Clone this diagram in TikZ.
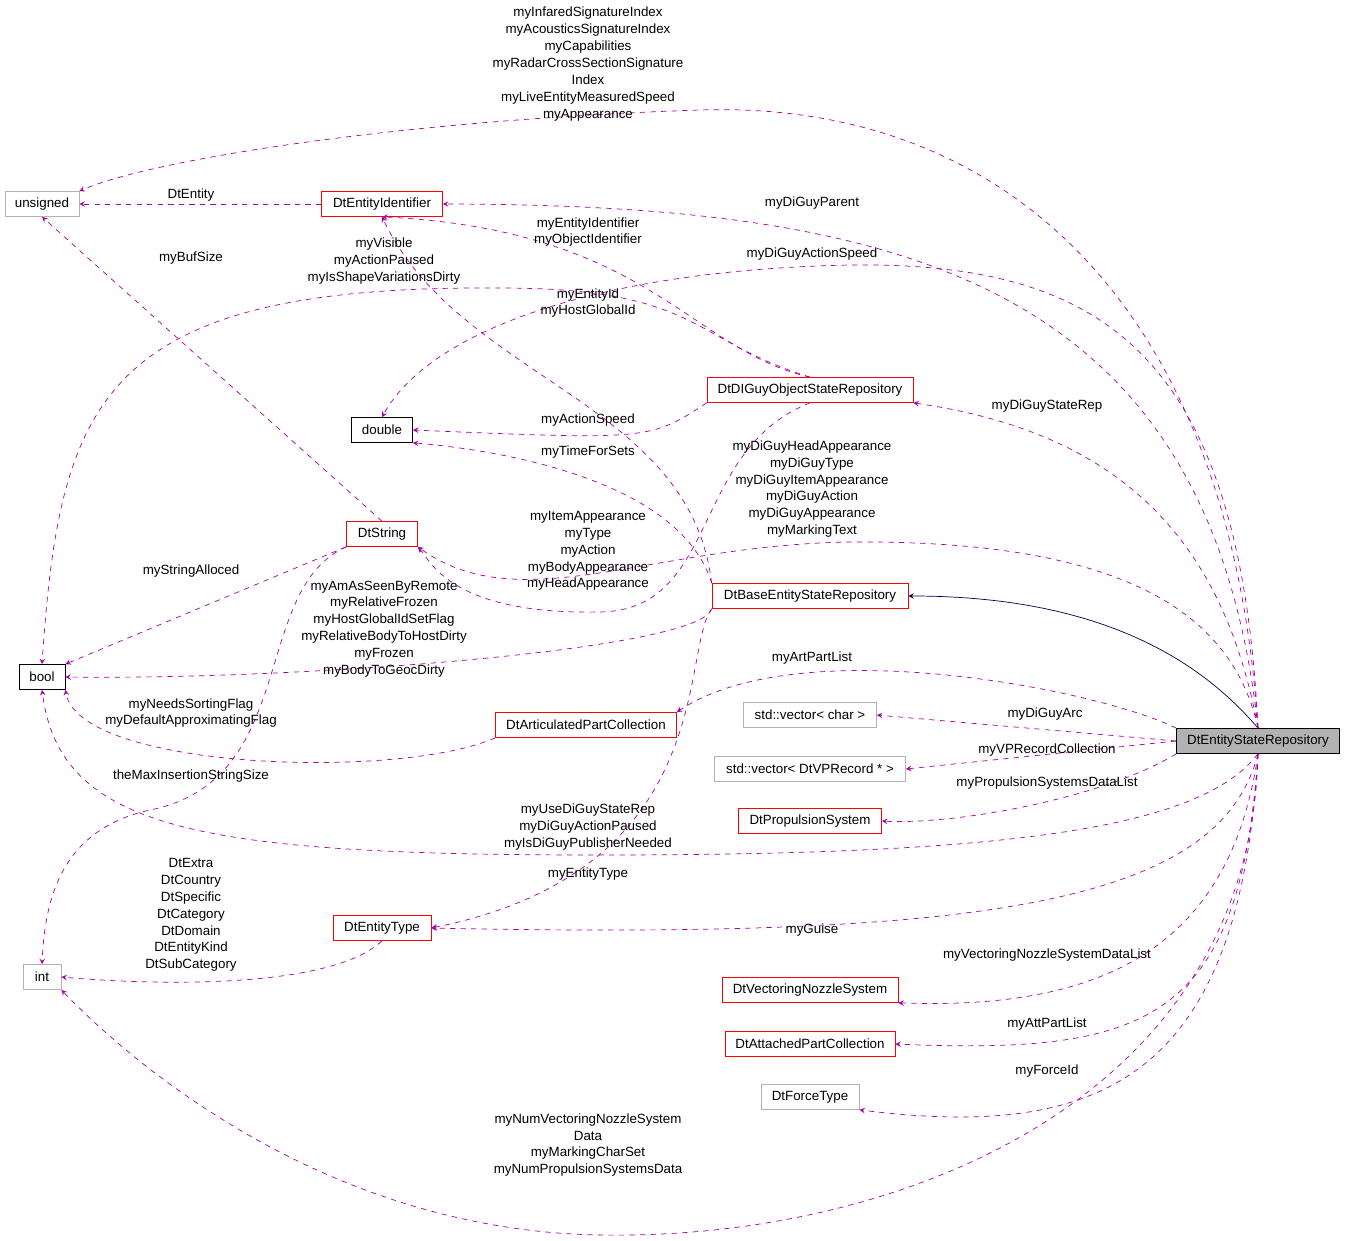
\documentclass[tikz,border=0pt]{standalone}
\usepackage{fontspec}
\setmainfont{Liberation Sans}
\usetikzlibrary{calc, positioning, arrows}

\begin{document}
\begin{tikzpicture}[x=0.02cm, y=-0.02cm,
  every node/.style={font=\fontsize{7.6}{9.6}\selectfont},
  cls/.style={draw, inner sep=2pt, minimum height=0.5cm, fill=white},
  red cls/.style={cls, draw=red},
  gray cls/.style={cls, draw=gray!60},
  blk cls/.style={cls, draw=black},
  mem/.style={dashed, color=violet!70!magenta, -stealth, thin},
  inh/.style={color=blue!30!black, -stealth, thin},
  lbl/.style={align=center, inner sep=0pt}]
  \useasboundingbox (0,0) rectangle (1347,1241);

  % classes
  \node[gray cls, minimum width=1.48cm] (unsigned) at (42,204) {unsigned};
  \node[red cls, minimum width=2.42cm] (ident) at (382,204) {DtEntityIdentifier};
  \node[blk cls, minimum width=1.22cm] (double) at (382,430) {double};
  \node[red cls, minimum width=4.12cm] (dig) at (810,390) {DtDIGuyObjectStateRepository};
  \node[red cls, minimum width=1.42cm] (dstr) at (382,534) {DtString};
  \node[red cls, minimum width=3.92cm] (base) at (810,596) {DtBaseEntityStateRepository};
  \node[blk cls, minimum width=0.92cm] (bool) at (42,677) {bool};
  \node[red cls, minimum width=3.62cm] (artic) at (586,725) {DtArticulatedPartCollection};
  \node[gray cls, minimum width=2.66cm] (vchar) at (810,715) {std::vector< char >};
  \node[gray cls, minimum width=3.82cm] (vvp) at (810,769) {std::vector< DtVPRecord * >};
  \node[cls, fill=gray!60, minimum width=3.26cm] (esr) at (1258,741) {DtEntityStateRepository};
  \node[red cls, minimum width=2.86cm] (prop) at (810,821) {DtPropulsionSystem};
  \node[red cls, minimum width=1.96cm] (etype) at (382,928) {DtEntityType};
  \node[gray cls, minimum width=0.76cm] (int) at (42,977) {int};
  \node[red cls, minimum width=3.52cm] (vns) at (810,990) {DtVectoringNozzleSystem};
  \node[red cls, minimum width=3.40cm] (att) at (810,1044) {DtAttachedPartCollection};
  \node[gray cls, minimum width=1.96cm] (force) at (810,1097) {DtForceType};

  % connectors from DtEntityStateRepository
  \draw[inh] (esr.north) .. controls (1200,660) and (1100,596) .. (base.east);
  \draw[mem] (esr.north) .. controls (1230,300) and (1000,100) .. (700,110) .. controls (400,120) and (150,160) .. (unsigned.north east);
  \draw[mem] (esr.north) .. controls (1210,280) and (900,205) .. (ident.east);
  \draw[mem] (esr.north) .. controls (1240,350) and (1100,262) .. (850,265) .. controls (600,270) and (430,330) .. (double.north);
  \draw[mem] (esr.north) .. controls (1220,520) and (1100,430) .. (dig.south east);
  \draw[mem] (esr.north) .. controls (1230,600) and (1100,540) .. (850,542) .. controls (650,545) and (520,620) .. (dstr.south east);
  \draw[mem] (esr.north west) .. controls (1100,690) and (800,630) .. (artic.north east);
  \draw[mem] (esr.west) -- (vchar.east);
  \draw[mem] (esr.west) -- (vvp.east);
  \draw[mem] (esr.south west) .. controls (1100,800) and (950,825) .. (prop.east);
  \draw[mem] (esr.south) .. controls (1200,830) and (1000,855) .. (600,855) .. controls (200,855) and (60,830) .. (bool.south);
  \draw[mem] (esr.south) .. controls (1220,900) and (1000,940) .. (etype.east);
  \draw[mem] (esr.south) .. controls (1230,950) and (1100,1010) .. (vns.south east);
  \draw[mem] (esr.south) .. controls (1240,1020) and (1150,1055) .. (att.east);
  \draw[mem] (esr.south) .. controls (1240,1080) and (1100,1140) .. (force.south east);
  \draw[mem] (esr.south) .. controls (1250,1100) and (900,1240) .. (600,1235) .. controls (300,1230) and (100,1030) .. (int.south east);

  % other connectors
  \draw[mem] (ident.west) -- (unsigned.east);
  \draw[mem] (dstr.north) -- (unsigned.south);
  \draw[mem] (dstr.south west) -- (bool.north east);
  \draw[mem] (dstr.south west) .. controls (250,590) and (300,780) .. (150,810) .. controls (60,830) and (45,900) .. (int.north);
  \draw[mem] (dig.north) .. controls (690,350) and (650,230) .. (ident.south);
  \draw[mem] (dig.north) .. controls (690,340) and (700,288) .. (500,288) .. controls (100,285) and (60,400) .. (bool.north);
  \draw[mem] (dig.south west) .. controls (650,440) .. (double.east);
  \draw[mem] (dig.south) .. controls (690,450) and (720,610) .. (600,612) .. controls (450,615) and (430,560) .. (dstr.south east);
  \draw[mem] (base.north west) .. controls (690,400) and (460,380) .. (ident.south);
  \draw[mem] (base.north west) .. controls (680,480) and (500,450) .. (double.south east);
  \draw[mem] (base.south west) .. controls (700,650) and (300,680) .. (bool.east);
  \draw[mem] (base.south west) .. controls (680,650) and (720,870) .. (etype.east);
  \draw[mem] (artic.south west) .. controls (400,780) and (80,770) .. (bool.south east);
  \draw[mem] (etype.south) .. controls (330,990) and (150,985) .. (int.east);

  % labels
  \node[lbl] (l1) at (588,64) {myInfaredSignatureIndex\\myAcousticsSignatureIndex\\myCapabilities\\myRadarCrossSectionSignature\\Index\\myLiveEntityMeasuredSpeed\\myAppearance};
  \node[lbl] (l2) at (812,203) {myDiGuyParent};
  \node[lbl] (l3) at (812,254) {myDiGuyActionSpeed};
  \node[lbl] (l4) at (1047,406) {myDiGuyStateRep};
  \node[lbl] (l5) at (812,489) {myDiGuyHeadAppearance\\myDiGuyType\\myDiGuyItemAppearance\\myDiGuyAction\\myDiGuyAppearance\\myMarkingText};
  \node[lbl] (l6) at (812,658) {myArtPartList};
  \node[lbl] (l7) at (1045,714) {myDiGuyArc};
  \node[lbl] (l8) at (1047,750) {myVPRecordCollection};
  \node[lbl] (l9) at (1047,783) {myPropulsionSystemsDataList};
  \node[lbl] (l10) at (588,827) {myUseDiGuyStateRep\\myDiGuyActionPaused\\myIsDiGuyPublisherNeeded};
  \node[lbl] (l11) at (812,930) {myGuise};
  \node[lbl] (l12) at (1047,955) {myVectoringNozzleSystemDataList};
  \node[lbl] (l13) at (1047,1024) {myAttPartList};
  \node[lbl] (l14) at (1047,1071) {myForceId};
  \node[lbl] (l15) at (588,1145) {myNumVectoringNozzleSystem\\Data\\myMarkingCharSet\\myNumPropulsionSystemsData};
  \node[lbl] (l16) at (191,195) {DtEntity};
  \node[lbl] (l17) at (191,258) {myBufSize};
  \node[lbl] (l18) at (191,571) {myStringAlloced};
  \node[lbl] (l19) at (191,776) {theMaxInsertionStringSize};
  \node[lbl] (l20) at (588,232) {myEntityIdentifier\\myObjectIdentifier};
  \node[lbl] (l21) at (384,261) {myVisible\\myActionPaused\\myIsShapeVariationsDirty};
  \node[lbl] (l22) at (588,420) {myActionSpeed};
  \node[lbl] (l23) at (588,551) {myItemAppearance\\myType\\myAction\\myBodyAppearance\\myHeadAppearance};
  \node[lbl] (l24) at (588,303) {myEntityId\\myHostGlobalId};
  \node[lbl] (l25) at (588,452) {myTimeForSets};
  \node[lbl] (l26) at (384,629) {myAmAsSeenByRemote\\myRelativeFrozen\\myHostGlobalIdSetFlag\\myRelativeBodyToHostDirty\\myFrozen\\myBodyToGeocDirty};
  \node[lbl] (l27) at (588,874) {myEntityType};
  \node[lbl] (l28) at (191,713) {myNeedsSortingFlag\\myDefaultApproximatingFlag};
  \node[lbl] (l29) at (191,915) {DtExtra\\DtCountry\\DtSpecific\\DtCategory\\DtDomain\\DtEntityKind\\DtSubCategory};
\end{tikzpicture}
\end{document}
